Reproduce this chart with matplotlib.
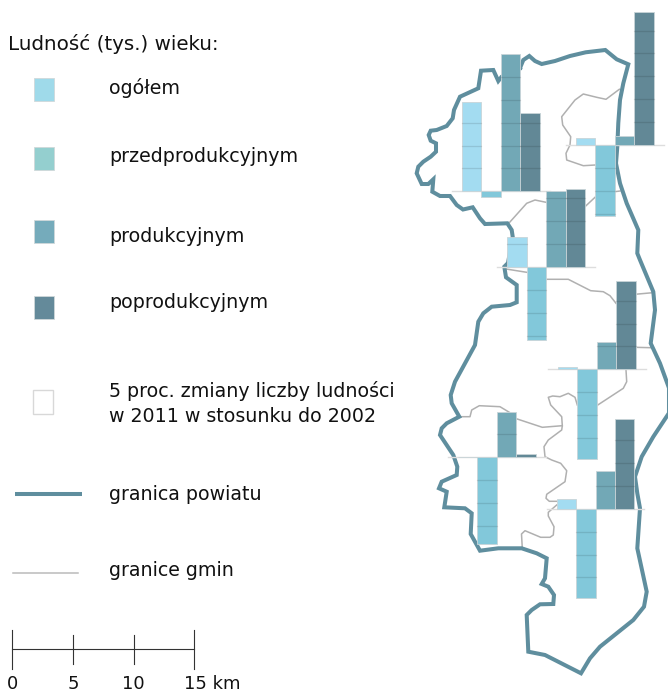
import matplotlib
matplotlib.use("Agg")
import matplotlib.pyplot as plt
from matplotlib.patches import Rectangle

# change 2011/2002 in percent, one value per gmina
groups = ["NW", "NE", "center", "E", "SW", "SE"]
ogolem = [19.6, 1.45, 6.6, 0.4, 0.15, 2.2]
przedprod = [-1.2, -15.5, -15.9, -19.6, -18.9, -19.5]
prod = [29.9, 2.0, 16.6, 6.0, 9.9, 8.3]
poprod = [17.0, 29.1, 17.0, 19.3, 0.65, 19.6]

# where each gmina chart sits on the map (pixels)
group_left = [462.0, 576.0, 507.3, 558.0, 458.0, 556.7]
group_base = [191.3, 145.0, 267.0, 369.3, 457.3, 508.7]
bar_w = 19.4
px_per_5 = 22.9

col_ogolem = "#a3dcf1"
col_przed = "#82c8da"
col_prod = "#72a8b6"
col_poprod = "#628896"
col_border = "#5f8e9e"
col_gmina = "#b0b0b0"

powiat_x = [520, 523.3, 529.3, 535, 541.7, 555, 570, 585.7, 605.3, 616.7, 628.3, 623.3, 620, 618.3, 617.3, 616,
            620, 626.7, 638.3, 637.3, 640, 653.3, 655, 650.7, 660, 669, 669, 653.3, 641.7, 635, 637.3, 640,
            637.3, 646.7, 644, 633.3, 600, 590, 581, 545, 528.3, 526.7, 531.7, 540, 553.3, 554, 548.3, 541.7,
            545, 546.7, 536.7, 521.7, 498.3, 480, 470.7, 471.7, 465, 444.3, 446.7, 439, 441.7, 456.7, 457.3,
            453.3, 440, 441.7, 446.7, 459.3, 451.7, 450.7, 455, 475, 478.3, 483.3, 491.7, 510, 516.7, 516.7,
            506, 504.3, 508, 512.7, 511.7, 507.3, 485, 480, 472.7, 463, 456.7, 450, 440, 432.3, 433.3, 428.3,
            421.7, 416.7, 418.3, 423.3, 430.7, 436, 436, 430.7, 428.7, 430.7, 436.7, 446.7, 452.7, 454, 460,
            478.3, 481, 493.3, 498.3, 501.7, 520]
powiat_y = [68, 60, 56, 61, 64, 61, 56, 52.3, 50, 59.3, 64.3, 83.3, 100, 123, 146.7, 163.3,
            183.3, 203.3, 230, 253.3, 260, 291.7, 310, 343.3, 363.3, 388, 413, 436.7, 456.7, 476.7, 493.3, 508.3,
            548.3, 591.7, 606.7, 620, 646.7, 658.3, 673.3, 655, 651.7, 615, 610, 604.3, 604, 595, 586.7, 584,
            578.3, 558.3, 553.3, 548.3, 548.3, 550.7, 534, 513.3, 508.3, 507.3, 491.7, 488.3, 481.7, 475, 466.7,
            455, 435, 428.3, 423.3, 416.7, 403.3, 395, 381.7, 345, 321.7, 313.3, 306.7, 305, 302.3, 285,
            277.3, 266.7, 263, 236.7, 230, 223.3, 224, 218.3, 207.3, 209.5, 205, 196, 196, 191.7, 179.3, 184,
            184, 173.3, 166.7, 161.7, 156.7, 151.7, 143.3, 140.7, 135, 130.7, 130, 126, 118.3, 110, 96.7,
            88.3, 70.7, 70, 81, 76.7, 68]

gmina_lines = [
    [(619.3, 89.3), (606, 99.3), (596.7, 97.3), (583.3, 94), (575, 100), (561.7, 116.7), (562.7, 125),
     (570.7, 136.7), (570, 145), (566, 153.3), (566.7, 160), (583.3, 165.7), (595.3, 165)],
    [(614.7, 191.7), (620, 191)],
    [(595, 197.3), (585, 206.7)],
    [(509.3, 222.7), (526.7, 203.3), (535, 200), (546, 202.3)],
    [(506, 269), (526.7, 272.3)],
    [(546, 279.3), (568.3, 279.3), (590.7, 290.7), (603.3, 291.7), (610, 295.7), (616, 303.3)],
    [(635, 294.3), (652.7, 292.7)],
    [(635, 347.3), (650.7, 347.7)],
    [(626, 370), (626.7, 381.7), (623.3, 388.3), (596.7, 405.7)],
    [(577.3, 405), (575, 397.3), (568.3, 393.3), (560, 396.7), (552.7, 396), (548.3, 397.3), (550.7, 405),
     (561.7, 416.7), (562.3, 425.7), (561.7, 430), (548.3, 440), (544, 446.7), (545, 456.7), (551.7, 460),
     (560.7, 463.3), (566.7, 470.7), (565, 481.7), (546.7, 494.3), (546, 498.3), (549.3, 501.3), (556.7, 501.3)],
    [(556.7, 505), (548.3, 512.3), (548.3, 516), (554, 526.7), (553.3, 535), (550, 537.3), (540.7, 537.3),
     (525, 530.7), (521.5, 534), (522.3, 548.3)],
    [(459.3, 416.7), (470, 416.7), (471.7, 410), (479.3, 405.7), (500, 406.7), (509.3, 412.3)],
    [(516.3, 418.7), (542.3, 427.3), (562.3, 425.7)],
]

legend_labels = ["ogółem", "przedprodukcyjnym", "produkcyjnym", "poprodukcyjnym"]
legend_cols = ["#9fdaea", "#94cfcf", "#75abbb", "#648a9a"]
legend_tops = [78.3, 146.7, 220, 295.7]
legend_text_y = [88, 156, 236, 303]

scale_km = [0, 5, 10, 15]
scale_x = [12.3, 73, 133.7, 194.3]

fs = 13.7
plt.rcParams["font.family"] = ["DejaVu Sans"]

fig = plt.figure(figsize=(6.68, 6.95), dpi=100)
ax = fig.add_axes([0, 0, 1, 1])
ax.set_xlim(0, 668)
ax.set_ylim(695, 0)
ax.axis("off")

ax.plot(powiat_x, powiat_y, color=col_border, lw=2.9, solid_joinstyle="miter", zorder=2)
for pts in gmina_lines:
    ax.plot([p[0] for p in pts], [p[1] for p in pts], color=col_gmina, lw=1.1, zorder=1)

series = [ogolem, przedprod, prod, poprod]
series_cols = [col_ogolem, col_przed, col_prod, col_poprod]
for g in range(len(groups)):
    left = group_left[g]
    base = group_base[g]
    ax.plot([left - 10, left + 4 * bar_w + 10], [base, base], color="#dddddd", lw=1, zorder=3)
    for s, vals in enumerate(series):
        x0 = left + s * bar_w
        h = vals[g] / 5.0 * px_per_5
        ax.bar(x0, -h, width=bar_w, bottom=base, align="edge", color=series_cols[s],
               edgecolor="#c8d4d8", linewidth=0.6, zorder=4)
        # darker rule every 5 percent
        n = int(abs(vals[g]) // 5)
        for k in range(1, n + 1):
            sign = 1 if vals[g] > 0 else -1
            yy = base - sign * k * px_per_5
            ax.plot([x0, x0 + bar_w], [yy, yy], color="#000000", alpha=0.11, lw=0.9, zorder=5)

# legend
ax.text(8, 44, "Ludność (tys.) wieku:", fontsize=14.3, va="center", color="#111111")
for i in range(4):
    ax.add_patch(Rectangle((34.3, legend_tops[i]), 19.4, 23.2, fc=legend_cols[i], ec="#d0d8da", lw=0.6))
    ax.text(109, legend_text_y[i], legend_labels[i], fontsize=fs, va="center", color="#111111")
ax.add_patch(Rectangle((33.3, 390.3), 19.4, 24, fc="white", ec="#d8d8d8", lw=1))
ax.text(109, 391, "5 proc. zmiany liczby ludności", fontsize=fs, va="center", color="#111111")
ax.text(109, 417, "w 2011 w stosunku do 2002", fontsize=fs, va="center", color="#111111")
ax.plot([14.7, 81.7], [494.3, 494.3], color=col_border, lw=2.9, solid_capstyle="butt")
ax.text(109, 495, "granica powiatu", fontsize=fs, va="center", color="#111111")
ax.plot([13.3, 77.7], [572.7, 572.7], color="#bbbbbb", lw=1.1)
ax.text(109, 570, "granice gmin", fontsize=fs, va="center", color="#111111")

# scale bar
ax.plot([scale_x[0], scale_x[-1]], [649.3, 649.3], color="#333333", lw=0.8)
for i, x in enumerate(scale_x):
    if i in (0, 3):
        ax.plot([x, x], [630, 669], color="#333333", lw=0.8)
    else:
        ax.plot([x, x], [635, 664], color="#333333", lw=0.8)
for i in range(3):
    ax.text(scale_x[i], 684, str(scale_km[i]), fontsize=13, va="center", ha="center", color="#111111")
ax.text(184, 684, "15 km", fontsize=13, va="center", color="#111111")

fig.savefig("out.png", dpi=100)
